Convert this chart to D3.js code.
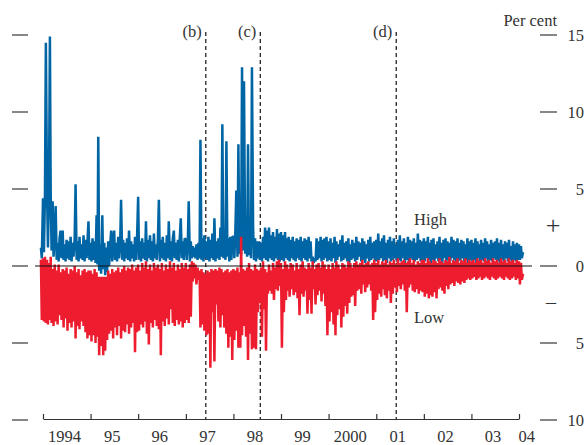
<!DOCTYPE html>
<html>
<head>
<meta charset="utf-8">
<script src="https://cdn.jsdelivr.net/npm/d3@7"></script>
<style>
  body { margin: 0; background: #fff; }
  text { font-family: "Liberation Serif", serif; fill: #333; }
</style>
</head>
<body>
<svg id="chart" width="587" height="445"></svg>
<script>
// weekly readings (1st, 8th, 16th, 23rd of each month), starting 16 Dec 1993
var highPct = [
  1.2, 0.5,
  /*1994*/ 4.4, 0.9, 4.6, 14.5, 4.8, 1.2, 4.9, 14.9, 4.7, 1.0, 4.2, 0.6, 2.0, 3.9, 0.4, 1.5, 0.3, 1.8, 2.3, 0.5, 2.3, 0.4, 1.4, 0.3,
           1.7, 0.5, 1.6, 0.4, 1.9, 0.3, 1.5, 0.6, 1.8, 5.3, 0.4, 1.6, 0.3, 1.9, 0.5, 1.4, 0.4, 2.0, 0.3, 1.7, 0.5, 1.6, 2.9, 0.4,
  /*1995*/ 1.5, 0.3, 1.8, 0.4, 1.6, 0.2, 3.3, 0.1, 8.4, -0.3, 1.4, -0.5, 3.3, -0.2, 1.5, -0.6, 1.2, -0.4, 1.6, 0.0, 1.4, 2.3, 0.3, 1.8,
           2.3, 0.4, 1.5, 0.3, 1.9, 0.5, 1.4, 4.3, 0.4, 1.7, 0.3, 1.5, 0.5, 1.8, 0.4, 2.3, 0.3, 1.6, 0.5, 1.4, 0.3, 1.9, 0.4, 1.6,
  /*1996*/ 4.5, 0.4, 1.6, 0.3, 1.8, 0.5, 1.5, 0.4, 2.9, 0.3, 1.7, 0.5, 2.0, 0.4, 1.6, 0.3, 2.1, 0.5, 1.4, 0.4, 1.8, 4.3, 0.3, 1.7,
           0.5, 1.9, 0.4, 1.5, 0.3, 2.0, 0.5, 2.9, 0.4, 1.6, 0.3, 1.8, 2.3, 0.5, 1.5, 0.4, 1.7, 0.3, 1.9, 3.1, 0.5, 1.6, 0.4, 1.8,
  /*1997*/ 1.7, 0.4, 1.5, 4.2, 0.3, 1.6, 0.5, 1.3, 0.6, 1.2, 0.5, 1.4, 0.4, 1.5, 0.5, 8.2, 0.4, 1.8, 0.3, 2.0, 0.5, 1.6, 0.4, 1.9,
           0.3, 1.7, 0.5, 2.1, 0.4, 3.1, 0.3, 1.6, 0.5, 1.8, 0.4, 2.5, 0.6, 9.2, 0.5, 1.7, 0.4, 8.1, 0.6, 1.8, 0.3, 1.9, 0.4, 1.9,
  /*1998*/ 1.9, 0.5, 2.3, 4.9, 0.6, 7.9, 0.8, 2.3, 0.7, 12.9, 1.0, 12.0, 0.8, 2.4, 0.6, 7.9, 0.7, 2.2, 0.5, 12.9, 2.5, 0.4, 1.8, 0.3,
           1.6, 0.5, 1.6, 0.4, 1.5, 0.3, 1.9, 0.5, 2.5, 0.4, 2.3, 0.3, 2.5, 0.5, 2.0, 0.4, 2.2, 0.3, 1.9, 0.5, 2.4, 0.4, 2.1, 0.3,
  /*1999*/ 2.2, 0.4, 2.0, 0.3, 2.2, 0.5, 1.8, 0.4, 1.9, 0.3, 1.7, 0.5, 1.9, 0.4, 1.6, 0.3, 1.8, 0.5, 1.7, 0.4, 1.9, 0.3, 1.6, 0.5,
           1.8, 0.4, 1.7, 0.3, 1.9, 0.5, 1.6, 0.3, 0.6, 0.2, 0.5, 0.3, 1.8, 0.4, 1.6, 0.5, 1.9, 0.3, 1.7, 0.4, 1.8, 0.5, 1.9, 0.3,
  /*2000*/ 1.6, 0.4, 1.8, 0.3, 1.5, 0.5, 1.9, 0.2, 1.6, 0.4, 1.4, 0.6, 1.7, 0.3, 2.0, 0.4, 1.5, 0.5, 1.6, 0.3, 1.8, 0.2, 1.4, 0.4,
           1.7, 0.5, 1.5, 0.3, 1.9, 0.4, 1.6, 0.6, 1.5, 0.3, 1.8, 0.4, 1.6, 0.2, 1.4, 0.5, 1.7, 0.3, 1.9, 0.4, 1.5, 0.5, 1.6, 0.3,
  /*2001*/ 1.7, 0.3, 2.1, 0.4, 1.6, 0.5, 1.8, 0.3, 2.0, 0.4, 1.5, 0.2, 1.7, 0.5, 1.9, 0.3, 1.6, 0.4, 1.8, 0.5, 1.4, 0.3, 1.7, 0.4,
           2.0, 0.3, 1.6, 0.5, 1.8, 0.2, 1.5, 0.4, 1.9, 0.3, 1.7, 0.5, 1.6, 0.4, 1.8, 0.3, 1.5, 0.4, 2.1, 0.5, 1.7, 0.3, 1.6, 0.4,
  /*2002*/ 1.8, 0.3, 1.6, 0.5, 1.9, 0.4, 1.5, 0.2, 1.7, 0.4, 1.8, 0.3, 1.4, 0.5, 1.6, 0.3, 1.9, 0.4, 1.5, 0.2, 1.7, 0.5, 1.8, 0.3,
           1.6, 0.4, 1.5, 0.3, 1.9, 0.5, 1.7, 0.4, 1.6, 0.2, 1.8, 0.3, 1.5, 0.4, 1.7, 0.5, 1.6, 0.3, 1.4, 0.4, 1.8, 0.2, 1.6, 0.4,
  /*2003*/ 1.7, 0.3, 1.5, 0.4, 1.8, 0.2, 1.6, 0.5, 1.4, 0.3, 1.7, 0.4, 1.5, 0.3, 1.8, 0.5, 1.6, 0.2, 1.4, 0.4, 1.7, 0.3, 1.5, 0.5,
           1.6, 0.4, 1.8, 0.3, 1.5, 0.2, 1.7, 0.4, 1.4, 0.3, 1.6, 0.5, 1.5, 0.3, 1.7, 0.4, 1.3, 0.2, 1.6, 0.4, 1.4, 0.3, 1.5, 0.4,
  /*2004*/ 1.4, 0.4, 1.3, 0.5, 0.9
];

var lowPct = [
  0.4, -3.5,
  /*1994*/ 0.5, -3.6, 0.6, -3.7, 0.4, -3.8, 0.2, -3.5, 0.6, -3.7, -0.2, -3.9, 0.1, -3.6, -0.3, -3.8, 0.1, -3.2, -0.4, -3.5, -0.2, -4.0, -0.3, -3.4,
           -0.1, -4.2, -0.5, -3.7, -0.2, -4.0, -0.3, -3.6, 0.0, -4.7, -0.4, -3.9, -0.2, -4.1, -0.6, -3.6, -0.3, -3.9, -0.2, -4.3, -0.4, -4.7, -0.3, -4.5,
  /*1995*/ -0.3, -4.9, -0.5, -4.5, -0.2, -5.0, -0.4, -4.6, -0.7, -5.8, -0.7, -5.2, -0.7, -5.8, -0.7, -5.5, -0.7, -4.8, -0.3, -4.4, -0.5, -4.2, -0.2, -4.7,
           -0.4, -4.0, -0.3, -4.5, -0.1, -3.9, -0.4, -4.7, -0.2, -4.2, 0.0, -4.3, -0.3, -3.8, -0.1, -4.4, -0.2, -4.0, 0.1, -3.7, -0.3, -5.6, -0.1, -4.3,
  /*1996*/ 0.1, -4.2, -0.3, -3.8, 0.2, -4.0, -0.1, -3.6, 0.3, -4.4, -0.2, -5.1, 0.1, -3.7, -0.3, -4.0, 0.2, -3.5, -0.1, -3.9, 0.1, -4.1, -0.2, -5.8,
           0.2, -3.6, -0.3, -3.9, 0.1, -3.4, -0.2, -3.8, 0.3, -2.8, -0.1, -3.7, 0.2, -3.9, -0.3, -3.5, 0.1, -3.8, -0.2, -3.6, 0.2, -4.0, -0.1, -3.7,
  /*1997*/ 0.2, -3.5, -0.2, -3.7, 0.1, -3.3, 0.3, -1.0, 0.2, -0.8, 0.1, -1.2, -0.1, -0.9, -0.3, -4.0, -0.2, -3.8, -0.4, -4.2, -0.5, -4.5, -0.3, -4.4,
           -0.4, -6.6, -0.2, -3.0, -0.3, -6.2, -0.2, -2.5, -0.3, -3.6, -0.1, -4.0, -0.2, -3.2, -0.4, -4.0, -0.3, -4.4, -0.2, -5.3, -0.4, -4.6, -0.3, -6.1,
  /*1998*/ -0.2, -4.8, -0.3, -4.2, -0.1, -5.3, -0.4, -5.3, 1.9, -4.5, -0.2, -3.9, -0.3, -4.6, -0.1, -6.1, 0.2, -4.4, -0.2, -5.4, -0.3, -5.3, 0.1, -5.4,
           -0.2, -3.0, -0.3, -2.4, -0.1, -4.6, 0.3, -2.8, -0.2, -5.5, -0.4, -1.8, 0.1, -1.6, -0.3, -1.8, 0.2, -2.2, -0.1, -1.5, 0.3, -1.6, 0.4, -1.3,
  /*1999*/ 0.2, -5.3, -0.2, -3.0, 0.3, -2.2, 0.1, -1.6, -0.2, -2.0, 0.2, -1.5, 0.1, -1.9, -0.3, -1.7, 0.2, -2.1, -0.2, -3.2, 0.1, -1.8, 0.3, -2.0,
           -0.1, -1.6, -0.2, -3.1, 0.2, -2.2, -0.1, -3.1, 0.3, -1.5, -0.2, -2.5, 0.1, -1.9, 0.2, -1.6, -0.1, -2.3, 0.3, -1.8, 0.1, -2.6, -0.2, -4.5,
  /*2000*/ 0.1, -3.6, -0.2, -3.0, 0.2, -3.8, -0.1, -4.5, 0.3, -3.2, 0.1, -2.8, -0.2, -4.0, 0.2, -3.3, 0.1, -2.6, -0.1, -3.1, 0.3, -2.4, 0.2, -2.0,
           -0.1, -1.9, 0.2, -2.6, 0.3, -1.6, 0.1, -1.5, 0.2, -1.8, 0.4, -1.2, 0.1, -1.7, 0.2, -1.4, 0.3, -1.2, 0.1, -1.6, 0.2, -3.5, 0.4, -3.0,
  /*2001*/ 0.2, -2.2, 0.4, -1.8, 0.1, -2.0, 0.3, -1.5, 0.2, -1.9, 0.4, -2.1, 0.1, -1.6, 0.3, -2.4, 0.2, -1.8, 0.4, -1.4, 0.1, -1.7, 0.5, -1.3,
           0.2, -1.5, 0.3, -1.2, 0.4, -1.6, 0.2, -3.0, 0.3, -1.4, 0.5, -1.2, 0.2, -1.6, 0.4, -1.7, 0.1, -1.5, 0.3, -1.8, 0.2, -1.6, 0.4, -1.7,
  /*2002*/ 0.4, -2.0, 0.2, -1.8, 0.5, -2.1, 0.3, -1.9, 0.2, -2.0, 0.4, -1.7, 0.3, -2.1, 0.2, -1.5, 0.5, -1.4, 0.3, -1.6, 0.2, -1.8, 0.4, -1.3,
           0.3, -1.5, 0.6, -1.2, 0.2, -1.1, 0.4, -1.3, 0.3, -1.0, 0.5, -1.1, 0.2, -1.2, 0.4, -1.0, 0.3, -1.1, 0.5, -0.9, 0.2, -0.8, 0.4, -0.9,
  /*2003*/ 0.3, -0.8, 0.4, -0.7, 0.2, -0.9, 0.5, -0.8, 0.3, -0.7, 0.4, -0.9, 0.2, -0.8, 0.5, -0.7, 0.3, -0.8, 0.4, -0.9, 0.2, -0.7, 0.5, -0.8,
           0.3, -0.9, 0.4, -0.8, 0.2, -0.7, 0.5, -0.8, 0.3, -0.9, 0.4, -0.7, 0.2, -0.8, 0.5, -0.9, 0.3, -0.8, 0.4, -0.7, 0.2, -0.9, 0.4, -0.8,
  /*2004*/ 0.3, -1.2, 0.2, -0.9, -0.5
];

var yTicks = [15, 10, 5, 0, -5, -10];
var yearLabels = ["1994", "95", "96", "97", "98", "99", "2000", "01", "02", "03", "04"];
var eventLabels = ["(b)", "(c)", "(d)"];
var eventDates = [new Date(1997, 5, 3), new Date(1998, 6, 26), new Date(2001, 5, 3)];
var readingDays = [1, 8, 16, 23];

var blue = "#0065a4", red = "#ed1c2e";
var fontSize = "16.5px";

// reading i falls in month (Dec 1993 + m), on day readingDays[q]
var dates = highPct.map(function(d, i) {
  var m = Math.floor((i + 2) / 4), q = (i + 2) % 4;
  return new Date(1993, 11 + m, readingDays[q]);
});

var svg = d3.select("#chart");

var x = d3.scaleTime().domain([new Date(1994, 0, 1), new Date(2004, 0, 1)]).range([43, 519]);
var y = d3.scaleLinear().domain([-10, 15]).range([420, 35]);

// side tick marks
svg.append("g").selectAll("line").data(yTicks).enter().append("line")
  .attr("x1", 12).attr("x2", 28)
  .attr("y1", function(d) { return y(d); }).attr("y2", function(d) { return y(d); })
  .attr("stroke", "#444").attr("stroke-width", 1.3);

svg.append("g").selectAll("line").data(yTicks).enter().append("line")
  .attr("x1", 540).attr("x2", 557)
  .attr("y1", function(d) { return y(d); }).attr("y2", function(d) { return y(d); })
  .attr("stroke", "#444").attr("stroke-width", 1.3);

svg.append("g").selectAll("text").data(yTicks).enter().append("text")
  .attr("x", 584).attr("y", function(d) { return y(d); })
  .attr("dy", "0.35em").attr("text-anchor", "end")
  .style("font-size", fontSize)
  .text(function(d) { return Math.abs(d); });

svg.append("text").attr("x", 557).attr("y", 26).attr("text-anchor", "end")
  .style("font-size", fontSize).text("Per cent");
svg.append("text").attr("x", 553).attr("y", 234).attr("text-anchor", "middle")
  .style("font-size", "26px").text("+");
svg.append("text").attr("x", 551).attr("y", 309).attr("text-anchor", "middle")
  .style("font-size", "20px").text("–");

// event lines
svg.append("g").selectAll("line").data(eventDates).enter().append("line")
  .attr("x1", function(d) { return x(d); }).attr("x2", function(d) { return x(d); })
  .attr("y1", 32).attr("y2", 419)
  .attr("stroke", "#111").attr("stroke-width", 1.2).attr("stroke-dasharray", "4,3");

svg.append("g").selectAll("text").data(eventDates).enter().append("text")
  .attr("x", function(d) { return x(d) - 4; }).attr("y", 37)
  .attr("text-anchor", "end").style("font-size", fontSize)
  .text(function(d, i) { return eventLabels[i]; });

// series
var line = d3.line()
  .x(function(d, i) { return x(dates[i]); })
  .y(function(d) { return y(d); });

svg.append("path").datum(highPct)
  .attr("d", line).attr("fill", "none")
  .attr("stroke", blue).attr("stroke-width", 2.5).attr("stroke-linejoin", "bevel");

svg.append("path").datum(lowPct)
  .attr("d", line).attr("fill", "none")
  .attr("stroke", red).attr("stroke-width", 2.5).attr("stroke-linejoin", "bevel");

// zero line
svg.append("line").attr("x1", 35).attr("x2", 532).attr("y1", y(0)).attr("y2", y(0))
  .attr("stroke", "#111").attr("stroke-width", 1.2);

svg.append("text").attr("x", 414).attr("y", 225).style("font-size", fontSize).text("High");
svg.append("text").attr("x", 414).attr("y", 323).style("font-size", fontSize).text("Low");

// bottom axis, ticks pointing up
var xAxis = svg.append("g").attr("transform", "translate(0,419)")
  .call(d3.axisTop(x).ticks(d3.timeYear.every(1)).tickSize(5).tickSizeOuter(0).tickFormat(""));
xAxis.select(".domain").attr("stroke", "#333").attr("stroke-width", 1.2);
xAxis.selectAll(".tick line").attr("stroke", "#333").attr("stroke-width", 1.2);

svg.append("g").selectAll("text").data(yearLabels).enter().append("text")
  .attr("x", function(d, i) {
    return i < 10 ? x(new Date(1994 + i, 6, 1)) - 2 : x(new Date(2004, 2, 1));
  })
  .attr("y", 442).attr("text-anchor", "middle").style("font-size", fontSize)
  .text(function(d) { return d; });
</script>
</body>
</html>
